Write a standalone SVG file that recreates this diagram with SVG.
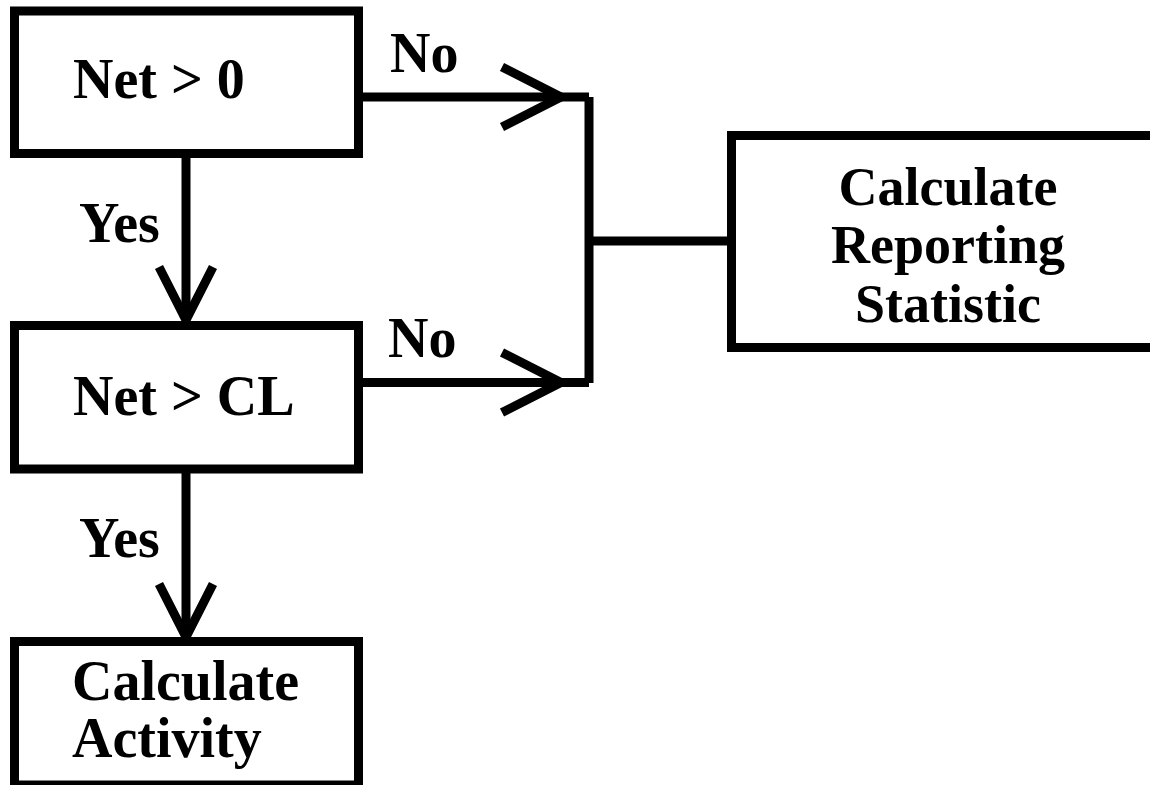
<svg xmlns="http://www.w3.org/2000/svg" width="1150" height="785" viewBox="0 0 1150 785">
  <style>
    .box { fill: #ffffff; stroke: #000000; stroke-width: 9; }
    .ln { fill: none; stroke: #000000; stroke-width: 9; stroke-linecap: butt; stroke-linejoin: miter; }
    .t { font-family: "Liberation Serif", "Times New Roman", serif; font-weight: bold; font-size: 56px; fill: #000000; }
    .c { text-anchor: middle; font-size: 54px; }
  </style>
  <rect width="1150" height="785" fill="#ffffff"/>
  <g id="connectors">
    <line class="ln" x1="186" y1="158" x2="186" y2="318"/>
    <polyline class="ln" points="159,267 186,320 213,267"/>
    <line class="ln" x1="186" y1="473" x2="186" y2="634"/>
    <polyline class="ln" points="159,584 186,637 213,584"/>
    <line class="ln" x1="362" y1="97" x2="589" y2="97"/>
    <polyline class="ln" points="502,67 561,97 502,127"/>
    <line class="ln" x1="362" y1="382.5" x2="589" y2="382.5"/>
    <polyline class="ln" points="502,352.5 561,382.5 502,412.5"/>
    <line class="ln" x1="589" y1="97" x2="589" y2="383"/>
    <line class="ln" x1="593" y1="241" x2="731" y2="241"/>
    <text class="t" x="390" y="72">No</text>
    <text class="t" x="388" y="357">No</text>
    <text class="t" x="79" y="242">Yes</text>
    <text class="t" x="79" y="557">Yes</text>
  </g>
  <g id="node-net0">
    <rect class="box" x="14.5" y="11" width="344" height="142.5"/>
    <text class="t" x="73" y="98">Net &gt; 0</text>
  </g>
  <g id="node-netcl">
    <rect class="box" x="14.5" y="325.5" width="344" height="143.5"/>
    <text class="t" x="73" y="415">Net &gt; CL</text>
  </g>
  <g id="node-activity">
    <rect class="box" x="14.5" y="641.5" width="344" height="143.5"/>
    <text class="t" x="72" y="700">Calculate</text>
    <text class="t" x="72" y="757">Activity</text>
  </g>
  <g id="node-reporting">
    <rect class="box" x="731.5" y="135.5" width="433" height="212"/>
    <text class="t c" x="948" y="205">Calculate</text>
    <text class="t c" x="948" y="263">Reporting</text>
    <text class="t c" x="948" y="322">Statistic</text>
  </g>
</svg>
